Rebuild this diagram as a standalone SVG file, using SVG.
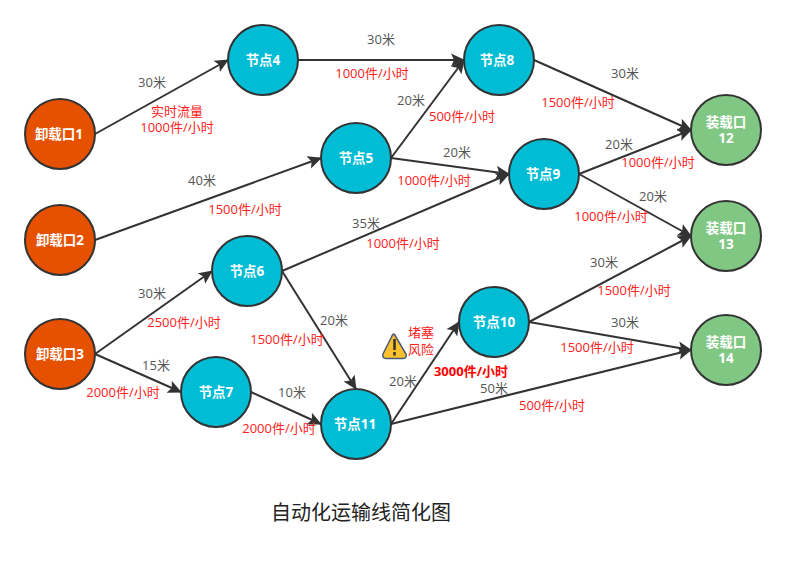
<svg xmlns="http://www.w3.org/2000/svg" width="786" height="583" viewBox="0 0 786 583">
<style>
text{font-family:"Open Sans","Noto Sans CJK SC",sans-serif;text-anchor:middle}
.n circle{stroke:#333;stroke-width:2}
.n text{font-size:13.5px;font-weight:700;fill:#fff}
.o circle{fill:#e65100}.b circle{fill:#00bcd4}.g circle{fill:#81c784}
.c path{fill:none;stroke:#333;stroke-width:2;marker-end:url(#a)}
.d{font-size:13px;fill:#555}
.r{font-size:13px;fill:#ff2020}
</style>
<defs><marker id="a" markerUnits="userSpaceOnUse" markerWidth="16" markerHeight="14" refX="13" refY="7" orient="auto" viewBox="0 0 16 14"><path d="M0 0.5L14 7L0 13.5L3 7Z" fill="#333"/></marker></defs>
<rect width="786" height="583" fill="#fff"/>
<g id="connectors" class="c">
<path d="M95 134L228 60"/><path d="M95 240L321 158"/><path d="M95 354L212 271"/><path d="M95 354L181 392"/>
<path d="M298 60H464"/><path d="M391 158L464 60"/><path d="M391 158L509 174"/><path d="M282 271L509 174"/>
<path d="M282 271L356 389"/><path d="M251 392L321 424"/><path d="M391 424L459 322"/><path d="M391 424L691 350"/>
<path d="M534 60L691 130"/><path d="M579 174L691 130"/><path d="M579 174L691 236"/><path d="M529 322L691 236"/><path d="M529 322L691 350"/>
</g>
<g id="n1" class="n o"><circle cx="60" cy="134" r="35"/><text x="59" y="139">卸载口1</text></g>
<g id="n2" class="n o"><circle cx="60" cy="240" r="35"/><text x="60" y="245">卸载口2</text></g>
<g id="n3" class="n o"><circle cx="60" cy="354" r="35"/><text x="60" y="359">卸载口3</text></g>
<g id="n4" class="n b"><circle cx="263" cy="60" r="35"/><text x="263" y="65">节点4</text></g>
<g id="n5" class="n b"><circle cx="356" cy="158" r="35"/><text x="356" y="163">节点5</text></g>
<g id="n6" class="n b"><circle cx="247" cy="271" r="35"/><text x="247" y="276">节点6</text></g>
<g id="n7" class="n b"><circle cx="216" cy="392" r="35"/><text x="216" y="397">节点7</text></g>
<g id="n8" class="n b"><circle cx="499" cy="60" r="35"/><text x="497" y="65">节点8</text></g>
<g id="n9" class="n b"><circle cx="544" cy="174" r="35"/><text x="543" y="179">节点9</text></g>
<g id="n10" class="n b"><circle cx="494" cy="322" r="35"/><text x="494" y="327">节点10</text></g>
<g id="n11" class="n b"><circle cx="356" cy="424" r="35"/><text x="355" y="429">节点11</text></g>
<g id="n12" class="n g"><circle cx="726" cy="130" r="35"/><text x="726" y="127">装载口</text><text x="726" y="143">12</text></g>
<g id="n13" class="n g"><circle cx="726" cy="236" r="35"/><text x="726" y="233">装载口</text><text x="726" y="249">13</text></g>
<g id="n14" class="n g"><circle cx="726" cy="350" r="35"/><text x="726" y="347">装载口</text><text x="726" y="363">14</text></g>
<g id="icon"><path d="M394.500 334.500L406 354Q407 358.500 403 358.500H386Q382 358.500 383 354L391 338Q393 333 394.500 334.500Z" fill="#fbc02d" stroke="#4a5a78" stroke-width="1.500"/><path d="M394.500 339V350M394.500 352V355.500" stroke="#333" stroke-width="2.500"/></g>
<g id="labels">
<text class="d" x="152" y="87">30米</text><text class="d" x="202" y="185">40米</text><text class="d" x="152" y="298">30米</text><text class="d" x="156" y="370">15米</text>
<text class="d" x="381" y="44">30米</text><text class="d" x="411" y="105">20米</text><text class="d" x="457" y="157">20米</text><text class="d" x="366" y="228">35米</text>
<text class="d" x="334" y="325">20米</text><text class="d" x="292" y="397">10米</text><text class="d" x="403" y="386">20米</text><text class="d" x="494" y="393">50米</text>
<text class="d" x="625" y="78">30米</text><text class="d" x="619" y="149">20米</text><text class="d" x="653" y="201">20米</text><text class="d" x="604" y="267">30米</text><text class="d" x="625" y="327">30米</text>
<text class="r" x="177" y="116">实时流量</text><text class="r" x="177" y="132">1000件/小时</text>
<text class="r" x="245" y="214">1500件/小时</text><text class="r" x="184" y="327">2500件/小时</text><text class="r" x="123" y="397">2000件/小时</text>
<text class="r" x="372" y="78">1000件/小时</text><text class="r" x="462" y="121">500件/小时</text><text class="r" x="434" y="185">1000件/小时</text><text class="r" x="403" y="248">1000件/小时</text>
<text class="r" x="287" y="344">1500件/小时</text><text class="r" x="279" y="433">2000件/小时</text>
<text class="r" x="421" y="337">堵塞</text><text class="r" x="421" y="354">风险</text>
<text class="r" x="471" y="376" style="font-weight:700;fill:#f00">3000件/小时</text>
<text class="r" x="552" y="410">500件/小时</text><text class="r" x="578" y="107">1500件/小时</text><text class="r" x="658" y="167">1000件/小时</text>
<text class="r" x="611" y="221">1000件/小时</text><text class="r" x="634" y="295">1500件/小时</text><text class="r" x="597" y="352">1500件/小时</text>
<text x="361" y="520" style="font-size:20px;fill:#222">自动化运输线简化图</text>
</g>
</svg>
